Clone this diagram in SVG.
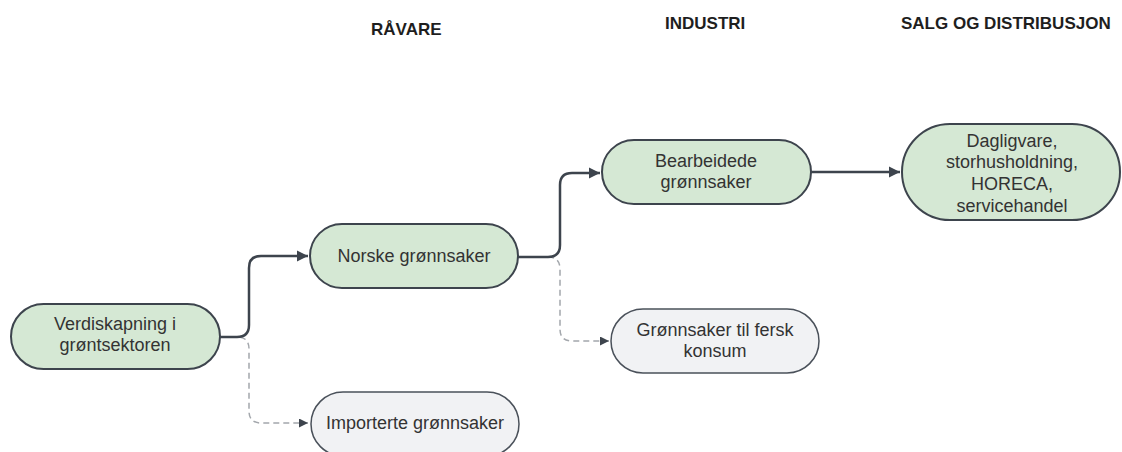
<svg xmlns="http://www.w3.org/2000/svg" width="1122" height="452" viewBox="0 0 1122 452">
<defs>
<style>
.hdr{font-family:"Liberation Sans",Arial,sans-serif;font-weight:bold;font-size:17px;fill:#1e1e1e;}
.lbl{font-family:"Liberation Sans",Arial,sans-serif;font-size:18px;fill:#333;text-anchor:middle;}
.g{fill:#d5e8d4;stroke:#3d444d;stroke-width:2;}
.w{fill:#f1f2f4;stroke:#4a515a;stroke-width:1.5;}
.solid{fill:none;stroke:#3d444d;stroke-width:2.5;}
.dash{fill:none;stroke:#a3a7ac;stroke-width:1.5;stroke-dasharray:6 4;}
</style>
<marker id="ah" viewBox="0 0 10 10" refX="10" refY="5" markerWidth="4.5" markerHeight="4.5" orient="auto" markerUnits="strokeWidth"><path d="M0,0 L10,5 L0,10 z" fill="#3d444d"/></marker>
<marker id="ahd" viewBox="0 0 10 10" refX="10" refY="5" markerWidth="6" markerHeight="6" orient="auto" markerUnits="strokeWidth"><path d="M0,0 L10,5 L0,10 z" fill="#3d444d"/></marker>
</defs>
<rect width="1122" height="452" fill="#fff"/>
<g id="headers">
<text class="hdr" x="371" y="35">RÅVARE</text>
<text class="hdr" x="665" y="29">INDUSTRI</text>
<text class="hdr" x="901" y="29">SALG OG DISTRIBUSJON</text>
</g>
<g id="connectors">
<path class="dash" d="M220,337 H237 Q249,337 249,349 V411 Q249,423 261,423 H308" marker-end="url(#ahd)"/>
<path class="dash" d="M518,257 H548 Q560,257 560,269 V329 Q560,341 572,341 H609" marker-end="url(#ahd)"/>
<path class="solid" d="M220,337 H237 Q249,337 249,325 V268 Q249,256 261,256 H308" marker-end="url(#ah)"/>
<path class="solid" d="M518,257 H548 Q560,257 560,245 V185 Q560,173 572,173 H600" marker-end="url(#ah)"/>
<path class="solid" d="M811,172 H900" marker-end="url(#ah)"/>
</g>
<g id="n1">
<rect class="g" x="11" y="304" width="209" height="65" rx="32.5"/>
<text class="lbl" x="115" y="330">Verdiskapning i</text>
<text class="lbl" x="115" y="351">grøntsektoren</text>
</g>
<g id="n2">
<rect class="g" x="310" y="224" width="208" height="64" rx="32"/>
<text class="lbl" x="414" y="262">Norske grønnsaker</text>
</g>
<g id="n3">
<rect class="g" x="602" y="140" width="209" height="64" rx="32"/>
<text class="lbl" x="706" y="167">Bearbeidede</text>
<text class="lbl" x="706" y="188">grønnsaker</text>
</g>
<g id="n4">
<rect class="g" x="902" y="124" width="218" height="96" rx="48"/>
<text class="lbl" x="1012" y="147">Dagligvare,</text>
<text class="lbl" x="1012" y="168">storhusholdning,</text>
<text class="lbl" x="1012" y="190">HORECA,</text>
<text class="lbl" x="1012" y="212">servicehandel</text>
</g>
<g id="n5">
<rect class="w" x="611" y="309" width="208" height="64" rx="32"/>
<text class="lbl" x="715" y="336">Grønnsaker til fersk</text>
<text class="lbl" x="715" y="357">konsum</text>
</g>
<g id="n6">
<rect class="w" x="311" y="392" width="208" height="64" rx="32"/>
<text class="lbl" x="415" y="429">Importerte grønnsaker</text>
</g>
</svg>
